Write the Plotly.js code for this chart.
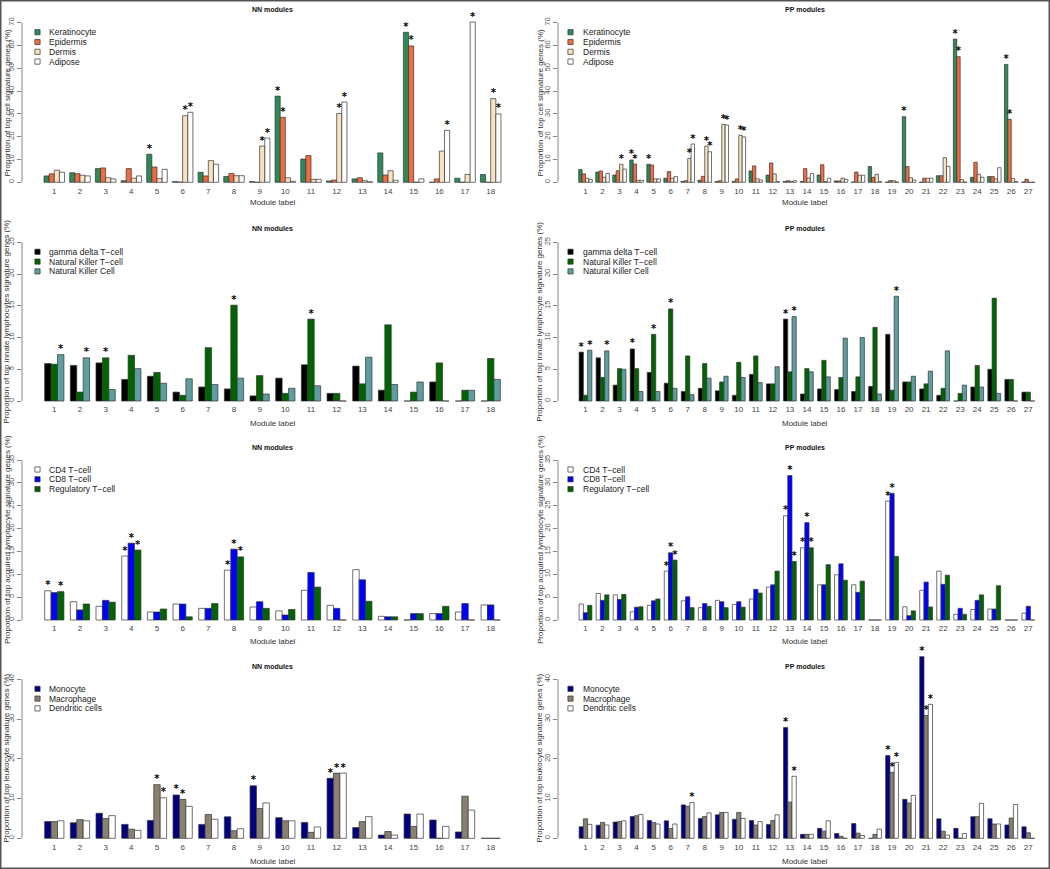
<!DOCTYPE html>
<html><head><meta charset="utf-8">
<script src="https://cdn.plot.ly/plotly-3.0.1.min.js"></script>
<style>html,body{margin:0;padding:0;background:#fff}#chart{width:1050px;height:869px}</style>
</head><body><div id="chart"></div>
<script>
// ---------- categories / tick labels ----------
const nnLabels = ['1','2','3','4','5','6','7','8','9','10','11','12','13','14','15','16','17','18'];
const ppLabels = ['1','2','3','4','5','6','7','8','9','10','11','12','13','14','15','16','17','18','19','20','21','22','23','24','25','26','27'];

// ---------- series names ----------
const cellSeries = ['Keratinocyte','Epidermis','Dermis','Adipose'];
const innateSeries = ['gamma delta T\u2212cell','Natural Killer T\u2212cell','Natural Killer Cell'];
const acquiredSeries = ['CD4 T\u2212cell','CD8 T\u2212cell','Regulatory T\u2212cell'];
const leukSeries = ['Monocyte','Macrophage','Dendritic cells'];

// ---------- NN cell-type values (%) ----------
const nnKeratinocyte = [2.8,4.2,6.0,0.7,12.3,0.3,4.4,2.5,0.3,37.8,10.2,0.6,1.5,12.9,65.8,0,1.8,3.4];
const nnEpidermis    = [3.7,3.8,6.3,6.0,6.7,0.1,2.8,3.9,0,28.5,11.7,1.0,2.0,3.2,59.8,1.5,0,0];
const nnDermis       = [5.3,3.1,2.0,1.8,1.6,29.2,9.5,2.9,15.9,2.0,1.3,30.2,0.7,5.1,0,13.7,3.5,36.7];
const nnAdipose      = [4.4,2.8,1.5,2.8,5.7,30.7,7.9,2.9,19.4,0.4,1.3,35.2,0.2,0.9,1.5,22.8,70.3,30.0];
// ---------- PP cell-type values (%) ----------
const ppKeratinocyte = [5.6,4.5,3.2,9.8,7.9,1.8,0.4,0.9,0.3,0.4,5.0,3.2,0.4,0.3,3.2,0.6,0.1,6.9,0.1,28.8,0.1,2.9,62.8,2.2,2.5,51.7,0.1];
const ppEpidermis    = [3.7,5.0,5.1,8.0,7.6,4.7,0.7,2.6,0.7,1.5,7.2,8.5,0.7,6.0,7.7,0.6,4.5,2.2,0.7,6.9,1.8,2.9,55.1,8.8,2.5,27.6,1.3];
const ppDermis       = [1.8,2.2,7.9,0.9,1.5,1.8,10.5,15.9,25.4,20.6,1.5,3.7,0.4,1.8,0.3,1.8,3.1,3.5,0.7,2.0,1.8,10.8,1.2,3.5,1.5,1.6,0];
const ppAdipose      = [1.2,3.9,5.8,0.9,1.5,2.5,16.8,13.4,25.1,19.9,1.0,0.3,0.7,3.9,1.8,1.3,3.1,0.3,0.1,1.0,1.8,7.0,0.1,2.2,6.4,0.3,0];

// ---------- innate lymphocytes ----------
const nnGammaDelta = [5.9,5.6,6.0,3.4,3.9,1.4,2.2,1.9,0.8,3.6,5.7,1.2,5.5,1.7,0,3.0,0,0];
const nnNKT        = [5.8,1.4,6.8,7.2,4.5,0.9,8.4,15.1,4.0,1.2,12.9,1.2,2.7,12.0,1.4,6.0,1.7,6.7];
const nnNK         = [7.3,6.8,1.8,5.1,2.8,3.5,2.6,3.6,1.1,2.0,2.4,0,6.9,2.6,3.0,0,1.7,3.4];
const ppGammaDelta = [7.7,6.8,2.5,8.2,4.5,2.8,1.5,2.0,1.6,0.9,4.2,2.7,12.9,1.1,1.9,1.8,1.5,2.3,10.5,3.0,1.9,0.9,0,2.2,5.0,3.4,1.4];
const ppNKT        = [0.9,3.7,5.1,5.1,10.5,14.5,7.1,5.9,3.0,6.1,7.1,2.7,4.6,5.1,6.4,3.7,3.8,11.6,1.7,3.0,2.7,2.0,1.2,5.6,16.2,3.4,1.4];
const ppNK         = [8.0,7.9,5.0,1.5,1.5,2.0,1.0,3.6,3.9,3.7,2.9,5.4,13.3,4.6,3.8,9.9,10.0,1.1,16.5,3.9,4.7,7.9,2.5,2.2,1.2,0,0];

// ---------- acquired lymphocytes ----------
const nnCD4  = [6.4,4.0,3.0,14.0,1.75,3.5,2.55,10.9,2.85,2.0,6.5,3.2,11.0,0.8,0,1.4,1.75,3.3];
const nnCD8  = [6.0,2.2,4.3,16.8,1.75,3.5,2.55,15.5,4.0,1.1,10.4,2.55,8.8,0.7,1.4,1.4,3.6,3.3];
const nnTreg = [6.2,3.5,3.9,15.3,2.4,0.7,3.6,13.8,2.55,2.3,7.2,0,4.1,0.7,1.4,3.0,0,0];
const ppCD4  = [3.5,5.8,5.5,1.8,3.2,10.7,4.2,2.7,4.3,3.4,4.6,7.2,22.8,15.8,7.7,9.9,7.7,0,26.0,2.9,6.5,10.7,1.25,2.3,2.4,0,1.5];
const ppCD8  = [1.6,4.3,4.5,2.8,4.2,14.7,5.1,3.6,4.0,4.0,6.7,7.7,31.6,21.3,7.7,12.3,6.05,0,27.7,0.95,8.3,7.8,2.55,4.3,2.4,0,3.0];
const ppTreg = [3.2,5.5,5.6,2.9,4.6,13.1,2.7,3.0,2.7,2.8,5.9,10.7,12.8,15.8,12.1,8.7,8.5,0,13.9,2.0,2.85,9.8,1.25,5.5,7.5,0,0];

// ---------- leukocytes ----------
const nnMono = [4.2,3.9,6.3,3.5,4.5,10.9,3.5,5.4,13.2,5.2,4.0,15.1,2.7,0.8,6.1,4.6,1.6,0];
const nnMac  = [4.2,4.7,5.0,2.3,13.5,9.8,6.0,1.9,7.5,4.4,1.5,16.4,4.2,1.7,3.0,0,10.6,0];
const nnDC   = [4.4,4.4,5.7,2.0,10.2,8.05,4.8,2.4,8.9,4.4,2.85,16.4,5.45,0.8,6.1,3.0,7.1,0];
const ppMono = [2.9,3.3,4.1,5.5,4.5,4.4,8.4,5.0,5.9,4.8,4.5,3.5,27.9,1.0,2.5,1.2,3.7,0,20.8,9.8,45.7,4.9,2.5,5.45,4.9,3.35,2.9];
const ppMac  = [4.9,4.0,4.2,5.7,4.0,2.5,8.05,5.5,6.5,6.5,3.35,4.5,9.1,1.0,1.8,0.5,1.3,1.0,16.6,8.9,30.9,1.8,0,5.45,3.6,5.1,1.4];
const ppDC   = [3.5,3.35,4.4,6.0,3.6,3.6,9.0,6.4,6.5,5.0,4.2,5.9,15.6,1.0,4.4,0,0.7,2.3,19.1,10.8,33.7,0.8,1.2,8.8,3.6,8.5,0];

// ---------- significance stars (module numbers, one list per series) ----------
const nnCellStars     = [[5,10,15],[10,15],[6,9,12,18],[6,9,12,16,17,18]];
const ppCellStars     = [[4,5,20,23,26],[4,23,26],[3,7,8,9,10],[7,8,9,10]];
const nnInnateStars   = [[],[3,8,11],[1,2]];
const ppInnateStars   = [[1,4,13],[5,6],[1,2,13,19]];
const nnAcquiredStars = [[1,4,8],[4,8],[1,4,8]];
const ppAcquiredStars = [[6,13,14,19],[6,13,14,19],[6,13,14]];
const nnLeukStars     = [[6,9,12],[5,6,12],[5,12]];
const ppLeukStars     = [[13,19,21],[19,21],[7,13,19,21]];

// ---------- titles ----------
const yTitleCell = 'Proportion of top cell signature genes (%)';
const yTitleInnateNN = 'Proportion of top innate lymphocytes signature genes (%)';
const yTitleInnatePP = 'Proportion of top innate lymphocyte signature genes (%)';
const yTitleAcq = 'Proportion of top acquired lymphocyte signature genes (%)';
const yTitleLeuk = 'Proportion of top leukocyte signature genes (%)';
const xTitle = 'Module label';

// ---------- styles ----------
const cellColors = ['#2E8B57','#F26B43','#FAE2BF','#FFFFFF'];
const innateColors = ['#000000','#006400','#5F9EA0'];
const acquiredColors = ['#FFFFFF','#0000FF','#006400'];
const leukColors = ['#000080','#8B8070','#FFFFFF'];

const W = 1050, H = 869;
const FONT = '"Liberation Sans", Arial, Helvetica, sans-serif';
const LEFT  = {d0:22,  d1:519,  c1:54.3,  cN:490.7, titleX:272.7, ylabX:7,   legSym:37.5, legTxt:47};
const RIGHT = {d0:558, d1:1045, c1:585.5, cN:1028.3, titleX:805, ylabX:540, legSym:570.5, legTxt:580.5};

const panels = [
  {title:'NN modules', h:LEFT,  labels:nnLabels, series:cellSeries, values:[nnKeratinocyte,nnEpidermis,nnDermis,nnAdipose], colors:cellColors, stars:nnCellStars, ytitle:yTitleCell, ymax:70, ystep:10, zeroPx:182.3, topPx:22.7, domTop:11, domBot:184.5, titleY:9.7, xlabY:202},
  {title:'PP modules', h:RIGHT, labels:ppLabels, series:cellSeries, values:[ppKeratinocyte,ppEpidermis,ppDermis,ppAdipose], colors:cellColors, stars:ppCellStars, ytitle:yTitleCell, ymax:70, ystep:10, zeroPx:182.3, topPx:22.7, domTop:11, domBot:184.5, titleY:9.7, xlabY:202},
  {title:'NN modules', h:LEFT,  labels:nnLabels, series:innateSeries, values:[nnGammaDelta,nnNKT,nnNK], colors:innateColors, stars:nnInnateStars, ytitle:yTitleInnateNN, ymax:25, ystep:5, zeroPx:401, topPx:242.3, domTop:236, domBot:403, titleY:229, xlabY:423},
  {title:'PP modules', h:RIGHT, labels:ppLabels, series:innateSeries, values:[ppGammaDelta,ppNKT,ppNK], colors:innateColors, stars:ppInnateStars, ytitle:yTitleInnatePP, ymax:25, ystep:5, zeroPx:401, topPx:242.3, domTop:236, domBot:403, titleY:229, xlabY:423},
  {title:'NN modules', h:LEFT,  labels:nnLabels, series:acquiredSeries, values:[nnCD4,nnCD8,nnTreg], colors:acquiredColors, stars:nnAcquiredStars, ytitle:yTitleAcq, ymax:35, ystep:5, zeroPx:620, topPx:460, domTop:454, domBot:622, titleY:447.5, xlabY:641.5},
  {title:'PP modules', h:RIGHT, labels:ppLabels, series:acquiredSeries, values:[ppCD4,ppCD8,ppTreg], colors:acquiredColors, stars:ppAcquiredStars, ytitle:yTitleAcq, ymax:35, ystep:5, zeroPx:620, topPx:460, domTop:454, domBot:622, titleY:447.5, xlabY:641.5},
  {title:'NN modules', h:LEFT,  labels:nnLabels, series:leukSeries, values:[nnMono,nnMac,nnDC], colors:leukColors, stars:nnLeukStars, ytitle:yTitleLeuk, ymax:40, ystep:10, zeroPx:838.3, topPx:679.3, domTop:645, domBot:840.5, titleY:666, xlabY:861},
  {title:'PP modules', h:RIGHT, labels:ppLabels, series:leukSeries, values:[ppMono,ppMac,ppDC], colors:leukColors, stars:ppLeukStars, ytitle:yTitleLeuk, ymax:40, ystep:10, zeroPx:838.3, topPx:679.3, domTop:645, domBot:840.5, titleY:666, xlabY:861}
];

const data = [];
const layout = {
  width:W, height:H, margin:{l:0,r:0,t:0,b:0,pad:0},
  paper_bgcolor:'#ffffff', plot_bgcolor:'rgba(0,0,0,0)',
  barmode:'overlay', showlegend:false, hovermode:false,
  font:{family:FONT, size:8, color:'#222'},
  shapes:[], annotations:[]
};

panels.forEach((p, i) => {
  const n = p.labels.length, k = p.series.length;
  const hx = p.h;
  const ax = i === 0 ? '' : String(i + 1);
  const xref = 'x' + ax, yref = 'y' + ax;
  const upp = (n - 1) / (hx.cN - hx.c1);
  const xr = [1 - (hx.c1 - hx.d0) * upp, n + (hx.d1 - hx.cN) * upp];
  const vpp = p.ymax / (p.zeroPx - p.topPx);
  const yr = [-(p.domBot - p.zeroPx) * vpp, (p.zeroPx - p.domTop) * vpp];
  const pos = p.labels.map((_, g) => g + 1);
  const yt = []; for (let v = 0; v <= p.ymax + 1e-9; v += p.ystep) yt.push(v);

  layout['xaxis' + ax] = {
    domain:[hx.d0 / W, hx.d1 / W], range:xr, anchor:yref, fixedrange:true,
    tickmode:'array', tickvals:pos, ticktext:p.labels, ticks:'',
    showline:false, showgrid:false, zeroline:false,
    tickfont:{family:FONT, size:8, color:'#444'}
  };
  layout['yaxis' + ax] = {
    domain:[1 - p.domBot / H, 1 - p.domTop / H], range:yr, anchor:xref, fixedrange:true,
    tickmode:'array', tickvals:yt, ticktext:yt.map(String), tickangle:-90,
    ticks:'outside', ticklen:4, tickcolor:'#666', tickwidth:0.8,
    showline:false, showgrid:false, zeroline:false,
    tickfont:{family:FONT, size:7.5, color:'#555'}
  };
  layout.shapes.push({type:'line', xref:xref + ' domain', yref:yref, x0:0, x1:0, y0:0, y1:p.ymax,
    line:{color:'#666', width:0.8}});

  const w = 1 / (k + 1);
  p.series.forEach((s, j) => {
    const off = -k * w / 2 + j * w;
    data.push({
      type:'bar', name:s, x:pos, y:p.values[j], width:w, offset:off,
      xaxis:xref, yaxis:yref, showlegend:false,
      marker:{color:p.colors[j], line:{color:'#333', width:0.7}}
    });
    const st = p.stars[j];
    if (st.length) {
      data.push({
        type:'scatter', mode:'text', x:st.map(g => g + off + w / 2), y:st.map(g => p.values[j][g - 1]),
        text:st.map(() => '*'), textposition:'top center', cliponaxis:false,
        textfont:{family:'"DejaVu Sans", sans-serif', size:10, color:'#000000', weight:'bold'},
        xaxis:xref, yaxis:yref, showlegend:false, hoverinfo:'skip'
      });
    }
    const ly = p.topPx + 9.5 + j * 9.8;
    layout.shapes.push({type:'rect', xref:'paper', yref:'paper',
      x0:(hx.legSym - 2.6) / W, x1:(hx.legSym + 2.6) / W,
      y0:1 - (ly + 2.6) / H, y1:1 - (ly - 2.6) / H,
      fillcolor:p.colors[j], line:{color:'#333', width:0.7}});
    layout.annotations.push({xref:'paper', yref:'paper', x:hx.legTxt / W, y:1 - ly / H,
      xanchor:'left', yanchor:'middle', showarrow:false, text:s,
      font:{family:FONT, size:8.5, color:'#222'}});
  });

  layout.annotations.push({xref:'paper', yref:'paper', x:hx.titleX / W, y:1 - p.titleY / H,
    xanchor:'center', yanchor:'middle', showarrow:false, text:'<b>' + p.title + '</b>',
    font:{family:FONT, size:7, color:'#111'}});
  layout.annotations.push({xref:'paper', yref:'paper', x:hx.titleX / W, y:1 - p.xlabY / H,
    xanchor:'center', yanchor:'middle', showarrow:false, text:xTitle,
    font:{family:FONT, size:8, color:'#333'}});
  layout.annotations.push({xref:'paper', yref:'paper', x:hx.ylabX / W, y:1 - ((p.zeroPx + p.topPx) / 2) / H,
    xanchor:'center', yanchor:'middle', showarrow:false, textangle:-90, text:p.ytitle,
    font:{family:FONT, size:8, color:'#333'}});
});

layout.shapes.push({type:'rect', xref:'paper', yref:'paper', x0:0, x1:1, y0:0, y1:1,
  line:{color:'#555', width:3}, fillcolor:'rgba(0,0,0,0)'});

Plotly.newPlot('chart', data, layout, {displayModeBar:false, staticPlot:true});
</script>
</body></html>
